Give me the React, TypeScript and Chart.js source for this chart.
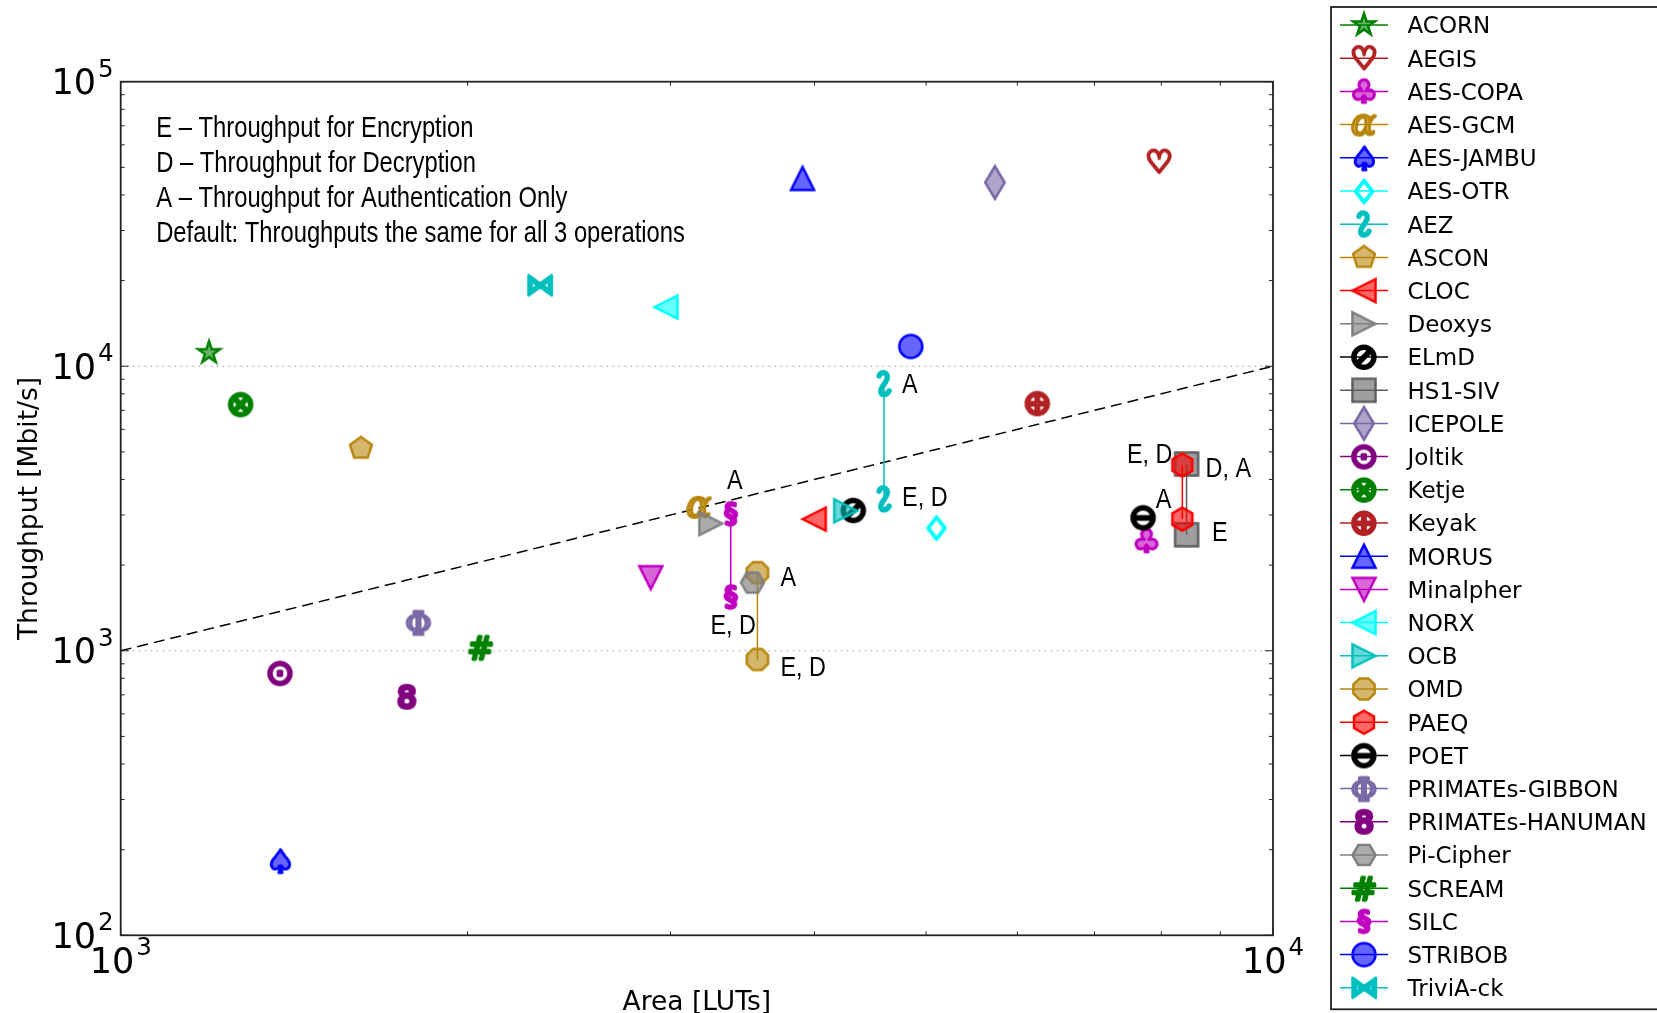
import { useEffect, useRef } from "react";
import { Chart, registerables } from "chart.js";

Chart.register(...registerables);

// ---- data -------------------------------------------------------------
const schemeNames: string[] = [
  "ACORN", "AEGIS", "AES-COPA", "AES-GCM", "AES-JAMBU", "AES-OTR", "AEZ", "ASCON",
  "CLOC", "Deoxys", "ELmD", "HS1-SIV", "ICEPOLE", "Joltik", "Ketje", "Keyak",
  "MORUS", "Minalpher", "NORX", "OCB", "OMD", "PAEQ", "POET", "PRIMATEs-GIBBON",
  "PRIMATEs-HANUMAN", "Pi-Cipher", "SCREAM", "SILC", "STRIBOB", "TriviA-ck",
];

// Area in LUTs, one list per scheme (two entries where operations differ)
const areaLUTs: number[][] = [
  [1193], [7963], [7768], [3177], [1375], [5104], [4597, 4597], [1616],
  [3998], [3252], [4324], [8414, 8414], [5737], [1375], [1271], [6245],
  [3906], [2884], [2973], [4258], [3569, 3569], [8343, 8343], [7716], [1813],
  [1771], [3534], [2053], [3384, 3384], [4849], [2311],
];

// Throughput in Mbit/s, matching areaLUTs entry by entry
const throughputMbps: number[][] = [
  [11157], [52340], [2434], [3206], [183], [2711], [8670, 3413], [5145],
  [2902], [2801], [3119], [4532, 2556], [44240], [834], [7345], [7407],
  [45700], [1807], [16137], [3104], [1882, 932], [4496, 2902], [2940], [1258],
  [689], [1736], [1028], [3029, 1545], [11734], [19250],
];

// Which operation each point stands for ("" = same for all three)
const pointTags: string[][] = [
  [""], [""], [""], [""], [""], [""], ["A", "E, D"], [""],
  [""], [""], [""], ["D, A", "E"], [""], [""], [""], [""],
  [""], [""], [""], [""], ["A", "E, D"], ["E, D", "A"], [""], [""],
  [""], [""], [""], ["A", "E, D"], [""], [""],
];

// 1 Mbit/s per LUT reference line
const parityLine: number[] = [1000, 10000];

const xTickValues: number[] = [1000, 10000];
const yTickValues: number[] = [100, 1000, 10000, 100000];

const noteLines: string[] = [
  "E – Throughput for Encryption",
  "D – Throughput for Decryption",
  "A – Throughput for Authentication Only",
  "Default: Throughputs the same for all 3 operations",
];

const xTitle = "Area [LUTs]";
const yTitle = "Throughput [Mbit/s]";

// ---- styles -----------------------------------------------------------
const markerKinds: string[] = [
  "star", "♡", "♣", "α", "♠", "♢", "wreath", "pentagon",
  "tri-left", "tri-right", "⊘", "square", "thin-diamond", "⊙", "⊗", "⊕",
  "tri-up", "tri-down", "tri-left", "tri-right", "octagon", "hexagon", "⊖", "Φ",
  "8", "hexagon-flat", "#", "§", "circle", "⋈",
];

const markerColors: string[] = [
  "#008000", "#b22222", "#bf00bf", "#b8860b", "#0000ff", "#00ffff", "#00bfbf", "#b8860b",
  "#ff0000", "#808080", "#000000", "#5f5f5f", "#7a68a6", "#800080", "#008000", "#b22222",
  "#0000ff", "#bf00bf", "#00ffff", "#00bfbf", "#b8860b", "#ff0000", "#000000", "#7a68a6",
  "#800080", "#808080", "#008000", "#bf00bf", "#0000ff", "#00bfbf",
];

const glyphFonts: Record<string, string> = {
  "α": "italic {s}px 'DejaVu Serif'",
  "Φ": "{s}px 'DejaVu Serif'",
};
const glyphStroke: Record<string, number> = { "8": 4.2, "§": 3.4 };

// Where each operation tag sits relative to its point (pixels)
const tagPlacement: Record<string, { dx: number; dy: number; align: CanvasTextAlign }[]> = {
  AEZ: [{ dx: 18, dy: 9.5, align: "left" }, { dx: 18, dy: 7, align: "left" }],
  "HS1-SIV": [{ dx: 19, dy: 12.5, align: "left" }, { dx: 25.5, dy: 6, align: "left" }],
  OMD: [{ dx: 23, dy: 13.5, align: "left" }, { dx: 23, dy: 17, align: "left" }],
  PAEQ: [{ dx: -10, dy: -2.5, align: "right" }, { dx: -11, dy: -11, align: "right" }],
  SILC: [{ dx: 4, dy: -24.5, align: "center" }, { dx: 2.5, dy: 37, align: "center" }],
};

const MS = 23; // marker size in px
const FACE_ALPHA = 0.6;

function rgba(hex: string, a: number): string {
  const n = parseInt(hex.slice(1), 16);
  return `rgba(${(n >> 16) & 255},${(n >> 8) & 255},${n & 255},${a})`;
}

function polygonPath(ctx: CanvasRenderingContext2D, cx: number, cy: number, n: number, r: number, rotDeg: number) {
  for (let k = 0; k < n; k++) {
    const a = ((-90 + rotDeg + (360 / n) * k) * Math.PI) / 180;
    const px = cx + r * Math.cos(a);
    const py = cy + r * Math.sin(a);
    if (k === 0) ctx.moveTo(px, py);
    else ctx.lineTo(px, py);
  }
  ctx.closePath();
}

// Thick vertical squiggle used for AEZ
function drawWreath(ctx: CanvasRenderingContext2D, color: string, cx: number, cy: number) {
  ctx.beginPath();
  ctx.moveTo(cx - 5, cy - 8);
  ctx.bezierCurveTo(cx - 4, cy - 13, cx + 5, cy - 12, cx + 3, cy - 5);
  ctx.bezierCurveTo(cx + 1, cy + 1, cx - 5, cy + 4, cx - 3, cy + 9);
  ctx.bezierCurveTo(cx - 2, cy + 12, cx + 3, cy + 11, cx + 5, cy + 7);
  ctx.lineWidth = 5.5;
  ctx.lineCap = "round";
  ctx.lineJoin = "round";
  ctx.strokeStyle = color;
  ctx.stroke();
}

function drawShape(ctx: CanvasRenderingContext2D, kind: string, color: string, cx: number, cy: number) {
  const r = MS / 2;
  ctx.beginPath();
  switch (kind) {
    case "circle":
      ctx.arc(cx, cy, r, 0, Math.PI * 2);
      break;
    case "square":
      ctx.rect(cx - r, cy - r, 2 * r, 2 * r);
      break;
    case "tri-up":
      ctx.moveTo(cx, cy - r); ctx.lineTo(cx - r, cy + r); ctx.lineTo(cx + r, cy + r); ctx.closePath();
      break;
    case "tri-down":
      ctx.moveTo(cx, cy + r); ctx.lineTo(cx - r, cy - r); ctx.lineTo(cx + r, cy - r); ctx.closePath();
      break;
    case "tri-left":
      ctx.moveTo(cx - r, cy); ctx.lineTo(cx + r, cy - r); ctx.lineTo(cx + r, cy + r); ctx.closePath();
      break;
    case "tri-right":
      ctx.moveTo(cx + r, cy); ctx.lineTo(cx - r, cy - r); ctx.lineTo(cx - r, cy + r); ctx.closePath();
      break;
    case "pentagon":
      polygonPath(ctx, cx, cy, 5, r, 0);
      break;
    case "hexagon":
      polygonPath(ctx, cx, cy, 6, r, 0);
      break;
    case "hexagon-flat":
      polygonPath(ctx, cx, cy, 6, r, 30);
      break;
    case "octagon":
      polygonPath(ctx, cx, cy, 8, r, 22.5);
      break;
    case "thin-diamond": {
      const h = r * Math.SQRT2;
      const w = 0.6 * h;
      ctx.moveTo(cx, cy - h); ctx.lineTo(cx + w, cy); ctx.lineTo(cx, cy + h); ctx.lineTo(cx - w, cy); ctx.closePath();
      break;
    }
    case "star": {
      const inner = r * 0.381966;
      for (let k = 0; k < 10; k++) {
        const rr = k % 2 === 0 ? r : inner;
        const a = ((-90 + 36 * k) * Math.PI) / 180;
        const px = cx + rr * Math.cos(a);
        const py = cy + rr * Math.sin(a);
        if (k === 0) ctx.moveTo(px, py);
        else ctx.lineTo(px, py);
      }
      ctx.closePath();
      break;
    }
  }
  const grey = color === "#808080";
  ctx.fillStyle = rgba(color, grey ? 0.65 : FACE_ALPHA);
  ctx.fill();
  ctx.lineWidth = 2.5;
  ctx.lineJoin = "miter";
  ctx.strokeStyle = color;
  ctx.stroke();
}

function drawGlyph(ctx: CanvasRenderingContext2D, ch: string, color: string, cx: number, cy: number) {
  const tpl = glyphFonts[ch] || "{s}px 'DejaVu Sans'";
  ctx.font = tpl.replace("{s}", "100");
  const m = ctx.measureText(ch);
  const w = m.actualBoundingBoxLeft + m.actualBoundingBoxRight;
  const h = m.actualBoundingBoxAscent + m.actualBoundingBoxDescent;
  const s = MS / Math.max(w, h);
  ctx.font = tpl.replace("{s}", (100 * s).toFixed(2));
  const x = cx - ((m.actualBoundingBoxRight - m.actualBoundingBoxLeft) / 2) * s;
  const y = cy - ((m.actualBoundingBoxDescent - m.actualBoundingBoxAscent) / 2) * s;
  ctx.textAlign = "left";
  ctx.textBaseline = "alphabetic";
  ctx.fillStyle = rgba(color, FACE_ALPHA);
  ctx.fillText(ch, x, y);
  ctx.lineWidth = glyphStroke[ch] || 3;
  ctx.lineJoin = "round";
  ctx.strokeStyle = color;
  ctx.strokeText(ch, x, y);
}

const SHAPES = new Set([
  "circle", "square", "tri-up", "tri-down", "tri-left", "tri-right",
  "pentagon", "hexagon", "hexagon-flat", "octagon", "thin-diamond", "star",
]);

function makeMarker(kind: string, color: string): HTMLCanvasElement {
  const c = document.createElement("canvas");
  c.width = 44;
  c.height = 44;
  const ctx = c.getContext("2d")!;
  if (kind === "wreath") drawWreath(ctx, color, 22, 22);
  else if (SHAPES.has(kind)) drawShape(ctx, kind, color, 22, 22);
  else drawGlyph(ctx, kind, color, 22, 22);
  return c;
}

function narrowText(ctx: CanvasRenderingContext2D, text: string, x: number, y: number, size: number, align: CanvasTextAlign) {
  ctx.save();
  ctx.font = `${size}px 'Liberation Sans'`;
  ctx.textAlign = align;
  ctx.textBaseline = "alphabetic";
  ctx.fillStyle = "#000";
  ctx.translate(x, y);
  ctx.scale(0.82, 1);
  ctx.fillText(text, 0, 0);
  ctx.restore();
}

function powerLabel(ctx: CanvasRenderingContext2D, exp: string, x: number, y: number, align: "right" | "center") {
  ctx.textAlign = "left";
  ctx.textBaseline = "alphabetic";
  ctx.fillStyle = "#000";
  ctx.font = "35px 'DejaVu Sans'";
  const wb = ctx.measureText("10").width + 2;
  ctx.font = "24.5px 'DejaVu Sans'";
  const we = ctx.measureText(exp).width;
  const total = wb + we;
  const x0 = align === "right" ? x - total : x - total / 2;
  ctx.font = "35px 'DejaVu Sans'";
  ctx.fillText("10", x0, y);
  ctx.font = "24.5px 'DejaVu Sans'";
  ctx.fillText(exp, x0 + wb, y - 17.5);
}

export default function App() {
  const ref = useRef<HTMLCanvasElement>(null);

  useEffect(() => {
    const canvas = ref.current;
    if (!canvas) return;
    const markers = schemeNames.map((_, i) => makeMarker(markerKinds[i], markerColors[i]));

    const datasets: any[] = schemeNames.map((name, i) => ({
      label: name,
      data: areaLUTs[i].map((x, j) => ({ x, y: throughputMbps[i][j] })),
      showLine: areaLUTs[i].length > 1,
      borderColor: markerColors[i],
      backgroundColor: markerColors[i],
      borderWidth: 1.5,
      pointStyle: markers[i],
      pointRadius: 12,
      order: schemeNames.length - i,
    }));
    datasets.push({
      label: "1 Mbit/s per LUT",
      data: parityLine.map((v) => ({ x: v, y: v })),
      showLine: true,
      borderColor: "#000",
      borderWidth: 1.5,
      borderDash: [11, 6],
      pointRadius: 0,
      order: 100,
    });

    const frame = {
      id: "frame",
      beforeDatasetsDraw(chart: any) {
        const { ctx, chartArea: a, scales } = chart;
        ctx.save();
        ctx.strokeStyle = "#9a9a9a";
        ctx.lineWidth = 1.2;
        ctx.setLineDash([1.5, 4.5]);
        for (const v of yTickValues.slice(1, -1)) {
          const y = scales.y.getPixelForValue(v);
          ctx.beginPath();
          ctx.moveTo(a.left, y);
          ctx.lineTo(a.right, y);
          ctx.stroke();
        }
        ctx.restore();
      },
      afterDatasetsDraw(chart: any) {
        const { ctx, chartArea: a, scales } = chart;
        ctx.save();
        // ticks, pointing inward on all four sides
        ctx.strokeStyle = "#222";
        ctx.lineWidth = 1;
        const tick = (x1: number, y1: number, x2: number, y2: number) => {
          ctx.beginPath();
          ctx.moveTo(x1, y1);
          ctx.lineTo(x2, y2);
          ctx.stroke();
        };
        for (let d = 0; d < yTickValues.length; d++) {
          const base = yTickValues[d];
          const y = scales.y.getPixelForValue(base);
          tick(a.left, y, a.left + 8, y);
          tick(a.right, y, a.right - 8, y);
          if (d < yTickValues.length - 1) {
            for (let k = 2; k <= 9; k++) {
              const ym = scales.y.getPixelForValue(base * k);
              tick(a.left, ym, a.left + 4, ym);
              tick(a.right, ym, a.right - 4, ym);
            }
          }
        }
        for (let d = 0; d < xTickValues.length; d++) {
          const base = xTickValues[d];
          const x = scales.x.getPixelForValue(base);
          tick(x, a.bottom, x, a.bottom - 8);
          tick(x, a.top, x, a.top + 8);
          if (d < xTickValues.length - 1) {
            for (let k = 2; k <= 9; k++) {
              const xm = scales.x.getPixelForValue(base * k);
              tick(xm, a.bottom, xm, a.bottom - 4);
              tick(xm, a.top, xm, a.top + 4);
            }
          }
        }
        // axes box
        ctx.lineWidth = 1.8;
        ctx.strokeRect(a.left, a.top, a.right - a.left, a.bottom - a.top);

        // tick labels
        for (const v of yTickValues) {
          const y = scales.y.getPixelForValue(v);
          powerLabel(ctx, String(Math.round(Math.log10(v))), a.left - 7, y + 12.3, "right");
        }
        for (const v of xTickValues) {
          const x = scales.x.getPixelForValue(v);
          powerLabel(ctx, String(Math.round(Math.log10(v))), x, a.bottom + 37.4, "center");
        }

        // axis titles
        ctx.fillStyle = "#000";
        ctx.font = "26.5px 'DejaVu Sans'";
        ctx.textAlign = "center";
        ctx.textBaseline = "alphabetic";
        ctx.fillText(xTitle, (a.left + a.right) / 2, 1010);
        ctx.save();
        ctx.translate(37, (a.top + a.bottom) / 2);
        ctx.rotate(-Math.PI / 2);
        ctx.fillText(yTitle, 0, 0);
        ctx.restore();

        // explanatory note
        noteLines.forEach((line, k) => narrowText(ctx, line, a.left + 35.5, 137.3 + k * 34.8, 29, "left"));

        // operation tags beside the points
        schemeNames.forEach((name, i) => {
          pointTags[i].forEach((tag, j) => {
            if (!tag) return;
            const p = tagPlacement[name][j];
            const x = scales.x.getPixelForValue(areaLUTs[i][j]);
            const y = scales.y.getPixelForValue(throughputMbps[i][j]);
            narrowText(ctx, tag, x + p.dx, y + p.dy, 28.5, p.align);
          });
        });

        // legend
        ctx.strokeStyle = "#222";
        ctx.lineWidth = 1.8;
        ctx.strokeRect(1331, 7, 400, 1002.3);
        ctx.font = "23px 'DejaVu Sans'";
        ctx.textAlign = "left";
        ctx.textBaseline = "alphabetic";
        schemeNames.forEach((name, i) => {
          const y = 25 + i * 33.2;
          ctx.strokeStyle = markerColors[i];
          ctx.lineWidth = 1.5;
          ctx.beginPath();
          ctx.moveTo(1340, y);
          ctx.lineTo(1388, y);
          ctx.stroke();
          ctx.drawImage(markers[i], 1364 - 22, y - 22);
          ctx.fillStyle = "#000";
          ctx.fillText(name, 1407.5, y + 8.4);
        });
        ctx.restore();
      },
    };

    const chart = new Chart(canvas, {
      type: "scatter",
      data: { datasets },
      options: {
        animation: false,
        responsive: false,
        devicePixelRatio: 1,
        events: [],
        layout: { padding: { left: 120.7, top: 81.7, right: 1657 - 1273, bottom: 1013 - 935.3 } },
        scales: {
          x: { type: "logarithmic", min: 1000, max: 10000, display: false },
          y: { type: "logarithmic", min: 100, max: 100000, display: false },
        },
        plugins: { legend: { display: false }, tooltip: { enabled: false } },
      },
      plugins: [frame],
    });
    return () => chart.destroy();
  }, []);

  return (
    <div style={{ position: "fixed", left: 0, top: 0, width: 1657, height: 1013, background: "#fff" }}>
      <canvas ref={ref} width={1657} height={1013} style={{ display: "block" }} />
    </div>
  );
}
